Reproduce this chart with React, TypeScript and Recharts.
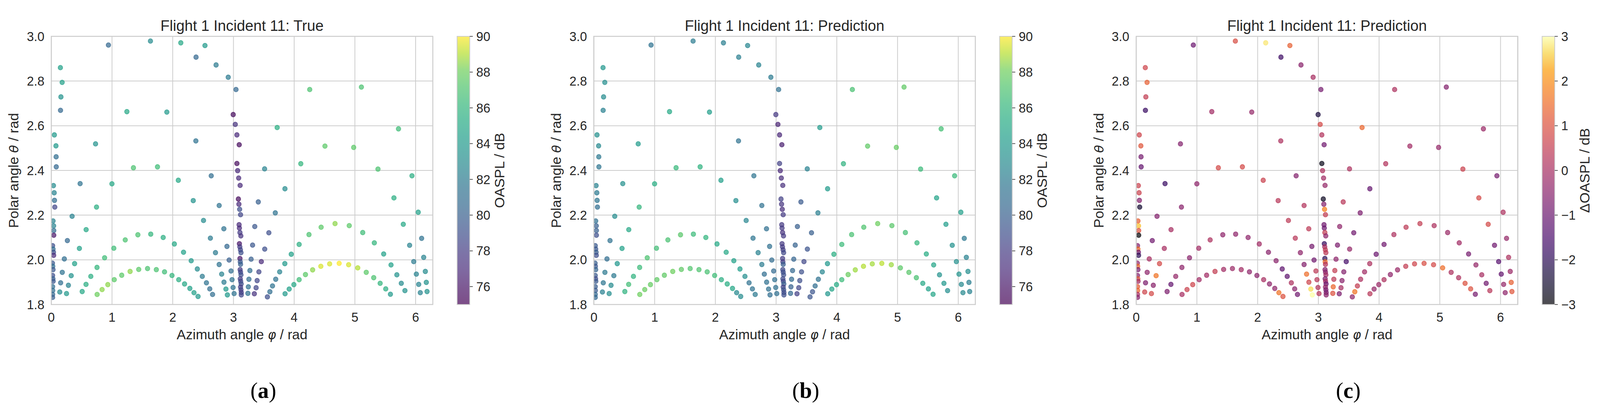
import React from 'react';
import { ScatterChart, Scatter, XAxis, YAxis, CartesianGrid } from 'recharts';

// measurement positions (azimuth phi / rad, polar theta / rad)
const azimuth = [
  0.941, 1.633, 2.133, 2.531, 2.384, 2.714, 2.914, 3.042, 0.150, 0.179,
  0.159, 0.152, 1.245, 1.903, 2.996, 3.030, 3.057, 3.095, 0.051, 0.077,
  0.080, 0.082, 0.729, 2.381, 1.353, 1.749, 3.057, 3.069, 3.513, 4.256,
  5.107, 3.720, 5.718, 4.507, 4.980, 4.109, 5.380, 5.940,
  0.036, 0.048, 0.053, 0.058, 0.029, 0.039, 0.041, 0.041, 0.022, 0.029,
  0.036, 0.039, 0.019, 0.024, 0.029, 0.022, 0.027, 0.031, 0.022, 0.024,
  0.022, 0.022,
  0.475, 0.999, 0.745, 0.343, 0.574, 0.265, 0.463, 0.215, 0.384, 0.181,
  0.328, 0.154, 0.282, 0.140, 0.251,
  0.509, 0.572, 0.651, 0.753, 0.878, 1.030, 1.218, 1.426, 1.638, 1.843,
  2.027, 2.178, 2.304, 2.405, 2.487, 2.555, 2.610, 2.656,
  0.755, 0.837, 0.931, 1.037, 1.160, 1.298, 1.440, 1.585, 1.730, 1.865,
  1.988, 2.099, 2.195, 2.282, 2.350, 2.417,
  2.092, 2.634, 2.338, 2.765, 2.507, 2.842, 2.620, 2.893, 2.704, 2.929,
  2.765, 2.960, 2.806, 2.977, 2.844, 2.994, 2.876, 3.011, 2.900,
  3.409, 3.351, 3.315, 3.515, 3.291, 3.459, 3.271, 3.419, 3.255, 3.390,
  3.245, 3.373, 3.238, 3.344, 3.848, 3.689, 3.583, 3.559,
  3.600, 3.643, 3.696, 3.761, 3.846, 3.952, 4.082, 4.244, 4.444, 4.673,
  4.907, 5.129, 5.320, 5.474, 5.595, 5.691, 5.764, 5.824,
  3.850, 3.918, 3.995, 4.082, 4.186, 4.304, 4.439, 4.584, 4.741, 4.897,
  5.047, 5.187, 5.310, 5.416, 5.508, 5.585,
  5.643, 6.043, 5.797, 6.099, 5.901, 6.133, 5.969, 6.160, 6.012, 6.176,
  6.051, 6.188, 6.077,
  3.086, 3.110, 3.081, 3.090, 3.102, 3.117, 3.093, 3.098, 3.107, 3.122,
  3.098, 3.105, 3.115, 3.124, 3.107, 3.112, 3.117, 3.110, 3.117, 3.124,
  3.112, 3.119, 3.127, 3.117, 3.124, 3.129, 3.129,
];

const polar = [
  2.961, 2.979, 2.971, 2.959, 2.907, 2.872, 2.817, 2.762, 2.860, 2.794,
  2.729, 2.669, 2.663, 2.661, 2.650, 2.606, 2.559, 2.515, 2.559, 2.510,
  2.461, 2.416, 2.519, 2.532, 2.412, 2.416, 2.431, 2.399, 2.407, 2.762,
  2.773, 2.592, 2.586, 2.509, 2.503, 2.430, 2.406, 2.376,
  2.332, 2.300, 2.266, 2.236, 2.174, 2.152, 2.131, 2.110, 2.063, 2.048,
  2.034, 2.020, 1.985, 1.971, 1.956, 1.930, 1.915, 1.904, 1.880, 1.863,
  1.845, 1.832,
  2.341, 2.340, 2.236, 2.195, 2.135, 2.086, 2.051, 2.004, 1.983, 1.944,
  1.929, 1.897, 1.886, 1.856, 1.849,
  1.858, 1.890, 1.926, 1.966, 2.009, 2.052, 2.089, 2.112, 2.115, 2.100,
  2.071, 2.034, 1.996, 1.959, 1.926, 1.897, 1.870, 1.845,
  1.845, 1.867, 1.889, 1.911, 1.931, 1.948, 1.957, 1.961, 1.956, 1.946,
  1.930, 1.911, 1.892, 1.872, 1.853, 1.836,
  2.356, 2.376, 2.265, 2.243, 2.176, 2.139, 2.097, 2.060, 2.032, 1.999,
  1.979, 1.950, 1.936, 1.911, 1.900, 1.876, 1.869, 1.849, 1.843,
  2.259, 2.149, 2.066, 2.048, 2.003, 1.992, 1.952, 1.946, 1.913, 1.907,
  1.879, 1.875, 1.850, 1.848, 2.318, 2.210, 2.121, 1.834,
  1.857, 1.883, 1.913, 1.946, 1.983, 2.025, 2.069, 2.113, 2.146, 2.162,
  2.153, 2.122, 2.076, 2.026, 1.977, 1.933, 1.895, 1.862,
  1.848, 1.869, 1.889, 1.911, 1.934, 1.955, 1.971, 1.982, 1.984, 1.978,
  1.964, 1.944, 1.920, 1.895, 1.870, 1.846,
  2.277, 2.213, 2.159, 2.096, 2.065, 2.011, 1.992, 1.948, 1.936, 1.899,
  1.890, 1.858, 1.853,
  2.366, 2.333, 2.272, 2.249, 2.226, 2.202, 2.157, 2.142, 2.122, 2.107,
  2.072, 2.058, 2.045, 2.032, 2.006, 1.991, 1.980, 1.956, 1.945, 1.933,
  1.915, 1.904, 1.892, 1.878, 1.866, 1.854, 1.843,
];

// OASPL / dB, measured
const oasplTrue = [
  80.5, 83, 85, 84, 80.5, 82, 82, 80.5, 84.5, 84.5,
  83.5, 80.5, 85, 84, 75.5, 77.5, 77, 75.5, 84, 84,
  81, 80.5, 83.5, 81.5, 87, 86.5, 75.5, 77, 82.5, 87,
  87, 85.5, 86.5, 87.5, 87.5, 86, 87, 85.5,
  83, 82.5, 81, 78.5, 82.5, 82.5, 81, 76, 79, 81,
  79, 77, 79.5, 81, 79.5, 79, 80, 79.5, 81, 81,
  80.5, 80,
  81.5, 85, 85.5, 82.5, 85, 80.5, 84.5, 81, 84.5, 81.5,
  83.5, 81, 82.5, 83, 84,
  85, 85.5, 85.5, 86, 86.5, 86.5, 87, 87, 86, 85.5,
  85, 84.5, 84, 83, 82, 81.5, 81, 81,
  88, 88.5, 88.5, 87.5, 87.5, 88.5, 87.5, 87, 87, 86.5,
  86, 85.5, 85, 84.5, 84.5, 84,
  85, 81, 83.5, 81.5, 83, 81.5, 82, 80.5, 82, 80,
  81.5, 81, 82.5, 81.5, 82, 81.5, 84, 81.5, 84,
  80, 79.5, 79.5, 79, 80, 77, 81, 78.5, 81, 78.5,
  81.5, 78.5, 81.5, 77.5, 83, 81.5, 79, 79,
  81, 81.5, 81.5, 82.5, 84, 84.5, 85.5, 87, 87.5, 88.5,
  87.5, 86.5, 86, 84.5, 84.5, 83.5, 83, 83.5,
  84, 84.5, 85, 86.5, 87.5, 88.5, 89.5, 89.5, 90, 89.5,
  89, 87.5, 87, 86, 85.5, 84,
  85.5, 84.5, 85, 81.5, 82.5, 82.5, 82, 83, 82.5, 83.5,
  82.5, 83.5, 82.5,
  77, 77, 75.5, 77, 79, 78.5, 77, 77, 78, 77.5,
  76, 78, 78.5, 79, 76, 79.5, 80, 78, 78.5, 79,
  78, 78.5, 79, 78, 78.5, 78, 78.5,
];

// OASPL / dB, predicted
const oasplPred = [
  81.5, 82.1, 82.2, 82.7, 82.2, 82.5, 82.0, 81.3, 83.8, 83.2,
  83.0, 82.3, 85.1, 84.3, 77.8, 76.7, 76.8, 76.4, 83.3, 82.9,
  81.8, 81.6, 84.1, 81.4, 86.2, 85.7, 78.3, 76.9, 82.4, 86.9,
  87.6, 84.1, 86.7, 87.6, 87.8, 85.8, 86.4, 86.3,
  82.4, 81.9, 81.6, 81.0, 81.2, 80.0, 80.0, 79.0, 79.6, 79.5,
  79.9, 79.0, 79.9, 79.5, 80.3, 79.6, 78.8, 79.6, 79.8, 79.6,
  80.5, 80.5,
  83.3, 85.4, 86.0, 83.1, 85.0, 81.4, 84.5, 81.0, 83.7, 81.9,
  81.9, 81.7, 83.0, 82.3, 83.2,
  85.7, 86.6, 85.8, 86.4, 87.0, 86.6, 86.9, 87.4, 86.4, 85.9,
  85.1, 85.0, 84.5, 84.2, 83.2, 81.4, 81.5, 81.9,
  88.0, 87.9, 87.8, 87.6, 87.6, 88.0, 87.6, 87.2, 87.1, 86.9,
  86.5, 85.5, 85.4, 84.9, 82.9, 83.0,
  84.4, 81.6, 83.2, 81.3, 82.6, 81.1, 81.7, 81.3, 82.4, 80.9,
  82.1, 80.6, 81.0, 81.2, 81.3, 81.3, 81.3, 81.2, 81.0,
  79.7, 79.9, 80.2, 79.3, 80.4, 78.6, 80.5, 79.1, 80.6, 79.0,
  80.1, 78.5, 80.5, 78.2, 84.1, 82.2, 79.9, 79.4,
  79.4, 81.0, 81.4, 82.6, 83.9, 85.5, 86.4, 86.9, 87.1, 88.0,
  87.4, 86.7, 86.1, 85.3, 84.8, 83.5, 83.9, 83.2,
  83.7, 84.8, 85.2, 86.4, 87.9, 88.7, 89.0, 88.8, 89.1, 88.7,
  87.5, 87.4, 86.9, 85.0, 84.5, 84.8,
  84.7, 84.4, 84.2, 81.8, 83.4, 82.4, 83.3, 83.2, 83.6, 82.2,
  82.8, 82.4, 82.9,
  77.1, 77.3, 78.2, 77.6, 77.2, 78.0, 77.9, 78.0, 77.5, 77.9,
  77.9, 78.0, 78.1, 78.6, 78.0, 78.0, 79.8, 78.6, 79.0, 79.1,
  78.7, 78.5, 80.0, 78.3, 79.2, 78.8, 79.0,
];

// delta OASPL / dB
const deltaOaspl = [
  -1.0, 0.9, 2.8, 1.3, -1.7, -0.5, 0.0, -0.8, 0.7, 1.3,
  0.5, -1.8, -0.1, -0.3, -2.3, 0.8, 0.2, -0.9, 0.7, 1.1,
  -0.8, -1.1, -0.6, 0.1, 0.8, 0.8, -2.8, 0.1, 0.1, 0.1,
  -0.6, 1.4, -0.2, -0.1, -0.3, 0.2, 0.6, -0.8,
  0.6, 0.6, -0.6, -2.5, 1.3, 2.5, 1.0, -3.0, -0.6, 1.5,
  -0.9, -2.0, -0.4, 1.5, -0.8, -0.6, 1.2, -0.1, 1.2, 1.4,
  0.0, -0.5,
  -1.8, -0.4, -0.5, -0.6, 0.0, -0.9, 0.0, 0.0, 0.8, -0.4,
  1.6, -0.7, -0.5, 0.7, 0.8,
  -0.7, -1.1, -0.3, -0.4, -0.5, -0.1, 0.1, -0.4, -0.4, -0.4,
  -0.1, -0.5, -0.5, -1.2, -1.2, 0.1, -0.5, -0.9,
  0.0, 0.6, 0.7, -0.1, -0.1, 0.5, -0.1, -0.2, -0.1, -0.4,
  -0.5, 0.0, -0.4, -0.4, 1.6, 1.0,
  0.6, -0.6, 0.3, 0.2, 0.4, 0.4, 0.3, -0.8, -0.4, -0.9,
  -0.6, 0.4, 1.5, 0.3, 0.7, 0.2, 2.7, 0.3, 3.0,
  0.3, -0.4, -0.7, -0.3, -0.4, -1.6, 0.5, -0.6, 0.4, -0.5,
  1.4, 0.0, 1.0, -0.7, -1.1, -0.7, -0.9, -0.4,
  1.6, 0.5, 0.1, -0.1, 0.1, -1.0, -0.9, 0.1, 0.4, 0.5,
  0.1, -0.2, -0.1, -0.8, -0.3, 0.0, -0.9, 0.3,
  0.3, -0.3, -0.2, 0.1, -0.4, -0.2, 0.5, 0.7, 0.9, 0.8,
  1.5, 0.1, 0.1, 1.0, 1.0, -0.8,
  0.8, 0.1, 0.8, -0.3, -0.9, 0.1, -1.3, -0.2, -1.1, 1.3,
  -0.3, 1.1, -0.4,
  -0.1, -0.3, -2.7, -0.6, 1.8, 0.5, -0.9, -1.0, 0.5, -0.4,
  -1.9, 0.0, 0.4, 0.4, -2.0, 1.5, 0.2, -0.6, -0.5, -0.1,
  -0.7, 0.0, -1.0, -0.3, -0.7, -0.8, -0.5,
];

const xTicks = [0, 1, 2, 3, 4, 5, 6];
const yTicks = [1.8, 2.0, 2.2, 2.4, 2.6, 2.8, 3.0];
const oasplTicks = [76, 78, 80, 82, 84, 86, 88, 90];
const deltaTicks = [-3, -2, -1, 0, 1, 2, 3];
const titles = [
  'Flight 1 Incident 11: True',
  'Flight 1 Incident 11: Prediction',
  'Flight 1 Incident 11: Prediction',
];
const captions = ['a', 'b', 'c'];

const VIRIDIS: [number, string][] = [
  [0, '#440154'], [0.0625, '#471365'], [0.125, '#482878'], [0.1875, '#453781'],
  [0.25, '#3e4989'], [0.3125, '#38598c'], [0.375, '#31688e'], [0.4375, '#2c728e'],
  [0.5, '#26828e'], [0.5625, '#21918c'], [0.625, '#1f9e89'], [0.6875, '#25ab82'],
  [0.75, '#35b779'], [0.8125, '#4ec36b'], [0.875, '#6ece58'], [0.9375, '#b5de2b'],
  [1, '#fde725'],
];
const INFERNO: [number, string][] = [
  [0, '#000004'], [0.0625, '#0c0826'], [0.125, '#1b0c41'], [0.1875, '#320a5e'],
  [0.25, '#4a0c6b'], [0.3125, '#61136e'], [0.375, '#781c6d'], [0.4375, '#8f2469'],
  [0.5, '#a52c60'], [0.5625, '#ba3655'], [0.625, '#cf4446'], [0.6875, '#df5337'],
  [0.75, '#ed6925'], [0.8125, '#f68013'], [0.875, '#fb9b06'], [0.9375, '#f7d13d'],
  [1, '#fcffa4'],
];

const hex = (h: string) => [1, 3, 5].map((i) => parseInt(h.slice(i, i + 2), 16));

function colorAt(stops: [number, string][], t: number) {
  const u = Math.max(0, Math.min(1, t));
  let k = 0;
  while (k < stops.length - 2 && u > stops[k + 1][0]) k++;
  const [t0, c0] = stops[k];
  const [t1, c1] = stops[k + 1];
  const f = (u - t0) / (t1 - t0);
  const a = hex(c0);
  const b = hex(c1);
  const rgb = a.map((v, i) => Math.round(v + (b[i] - v) * f));
  return `rgb(${rgb[0]},${rgb[1]},${rgb[2]})`;
}

const FONT = "'Liberation Sans', Arial, Helvetica, sans-serif";
const TEXT = '#262626';
const GRID = '#cccccc';

// the photographed viewport is narrower than the design, so squeeze it horizontally
const DESIGN_W = 4181;
const VIEW_W = 4096;

const PANEL_STEP = 1417.6;
const YAXIS_W = 134;
const PLOT_TOP = 93;
const PLOT_W = 997;
const PLOT_H = 686;
const XAXIS_H = 90;
const CHART_W = YAXIS_W + PLOT_W + 9;
const CHART_H = PLOT_TOP + PLOT_H + XAXIS_H;
const CB_X = 1194.5;
const CB_W = 33;

const panels = [
  { values: oasplTrue, stops: VIRIDIS, lo: 75, hi: 90, ticks: oasplTicks, label: 'OASPL / dB' },
  { values: oasplPred, stops: VIRIDIS, lo: 75, hi: 90, ticks: oasplTicks, label: 'OASPL / dB' },
  { values: deltaOaspl, stops: INFERNO, lo: -3, hi: 3, ticks: deltaTicks, label: '\u0394OASPL / dB' },
];

function Panel({ index }: { index: number }) {
  const p = panels[index];
  const points = azimuth.map((x, i) => ({ x, y: polar[i], v: p.values[i] }));
  const dot = (props: any) => {
    const { cx, cy, payload } = props;
    if (cx == null || cy == null) return null;
    const c = colorAt(p.stops, (payload.v - p.lo) / (p.hi - p.lo));
    return (
      <circle cx={cx} cy={cy} r={6} fill={c} fillOpacity={0.7} stroke={c} strokeOpacity={0.7} strokeWidth={1.6} />
    );
  };
  return (
    <div style={{ position: 'absolute', left: index * PANEL_STEP, top: 0 }}>
      <ScatterChart width={CHART_W} height={CHART_H} margin={{ top: PLOT_TOP, right: 9, bottom: 0, left: 0 }}>
        <CartesianGrid stroke={GRID} strokeWidth={2} />
        <XAxis
          type="number"
          dataKey="x"
          domain={[0, 2 * Math.PI]}
          ticks={xTicks}
          interval={0}
          allowDataOverflow
          height={XAXIS_H}
          tickLine={false}
          axisLine={false}
          tickSize={0}
          tickMargin={21}
          tick={{ fontSize: 33, fill: TEXT, fontFamily: FONT }}
        />
        <YAxis
          type="number"
          dataKey="y"
          domain={[1.8, 3.0]}
          ticks={yTicks}
          interval={0}
          allowDataOverflow
          width={YAXIS_W}
          tickLine={false}
          axisLine={false}
          tickSize={0}
          tickMargin={18}
          tickFormatter={(v: number) => v.toFixed(1)}
          tick={{ fontSize: 33, fill: TEXT, fontFamily: FONT }}
        />
        <Scatter data={points} shape={dot} isAnimationActive={false} />
      </ScatterChart>
    </div>
  );
}

function Overlay() {
  const cx = YAXIS_W + PLOT_W / 2;
  const cy = PLOT_TOP + PLOT_H / 2;
  return (
    <svg width={DESIGN_W} height={1054} style={{ position: 'absolute', left: 0, top: 0, pointerEvents: 'none' }}>
      <defs>
        {panels.map((p, i) => (
          <linearGradient key={i} id={`cb${i}`} x1="0" y1="1" x2="0" y2="0">
            {Array.from({ length: 33 }, (_, k) => k / 32).map((t) => (
              <stop key={t} offset={t} stopColor={colorAt(p.stops, t)} stopOpacity={0.7} />
            ))}
          </linearGradient>
        ))}
      </defs>
      {panels.map((p, i) => {
        const o = i * PANEL_STEP;
        const tickY = (v: number) => PLOT_TOP + PLOT_H - ((v - p.lo) / (p.hi - p.lo)) * PLOT_H;
        return (
          <g key={i} fontFamily={FONT} fill={TEXT}>
            <rect x={o + YAXIS_W} y={PLOT_TOP} width={PLOT_W} height={PLOT_H} fill="none" stroke={GRID} strokeWidth={2.5} />
            <text x={o + cx} y={79} fontSize={39} textAnchor="middle">{titles[i]}</text>
            <text x={o + cx} y={868} fontSize={36} textAnchor="middle">
              Azimuth angle <tspan fontStyle="italic" fontFamily="'DejaVu Sans', sans-serif" fontSize={33}>φ</tspan> / rad
            </text>
            <text x={o + 48} y={cy} fontSize={36} textAnchor="middle" transform={`rotate(-90 ${o + 48} ${cy})`}>
              Polar angle <tspan fontStyle="italic" fontFamily="'DejaVu Sans', sans-serif" fontSize={33}>θ</tspan> / rad
            </text>
            <rect x={o + CB_X} y={PLOT_TOP} width={CB_W} height={PLOT_H} fill={`url(#cb${i})`} stroke={GRID} strokeWidth={2} />
            {p.ticks.map((t) => (
              <g key={t}>
                <line x1={o + CB_X + CB_W} x2={o + CB_X + CB_W + 8} y1={tickY(t)} y2={tickY(t)} stroke={TEXT} strokeWidth={1.5} />
                <text x={o + CB_X + CB_W + 17} y={tickY(t)} dy="0.355em" fontSize={33}>
                  {t < 0 ? `\u2212${Math.abs(t)}` : `${t}`}
                </text>
              </g>
            ))}
            <text x={o + 1318} y={cy} fontSize={36} textAnchor="middle" transform={`rotate(-90 ${o + 1318} ${cy})`}>
              {p.label}
            </text>
            <text x={o + 688} y={1018} fontSize={58} textAnchor="middle" fill="#000" fontFamily="'Liberation Serif', 'DejaVu Serif', serif">
              (<tspan fontWeight="bold">{captions[i]}</tspan>)
            </text>
          </g>
        );
      })}
    </svg>
  );
}

export default function App() {
  return (
    <div
      style={{
        position: 'absolute',
        left: 0,
        top: 0,
        width: DESIGN_W,
        height: 1054,
        background: '#ffffff',
        overflow: 'hidden',
        transform: `scaleX(${VIEW_W / DESIGN_W})`,
        transformOrigin: '0 0',
      }}
    >
      {[0, 1, 2].map((i) => (
        <Panel key={i} index={i} />
      ))}
      <Overlay />
    </div>
  );
}
